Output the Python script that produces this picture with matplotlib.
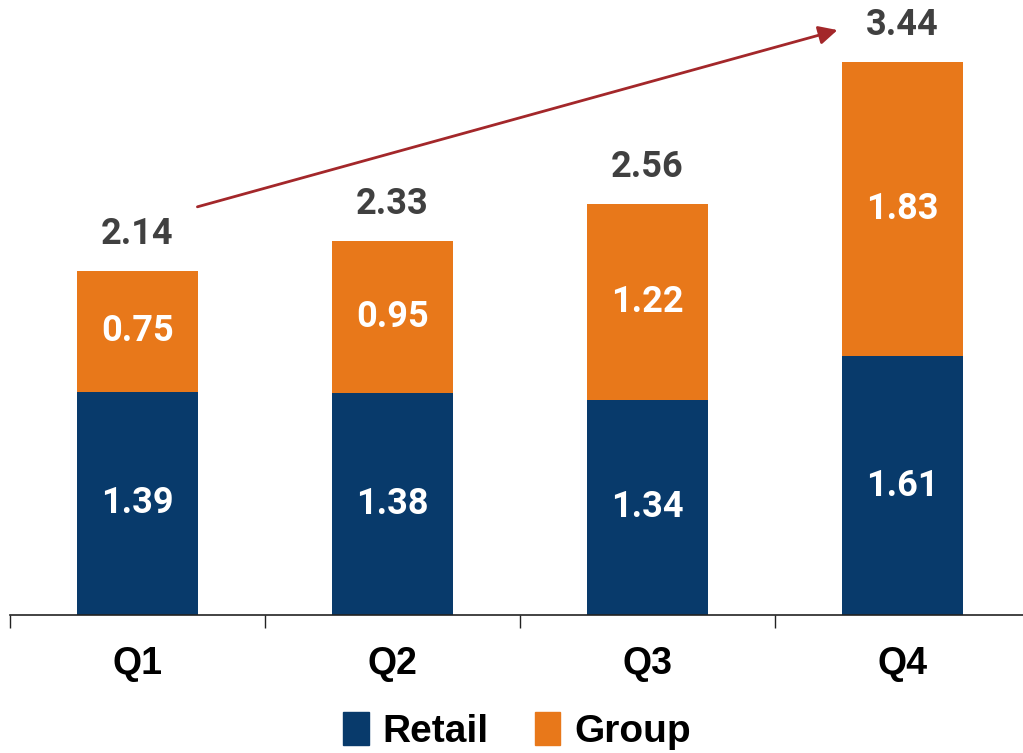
import numpy as np
import matplotlib.pyplot as plt
from matplotlib.patches import Patch

quarters = ['Q1', 'Q2', 'Q3', 'Q4']
retail = [1.39, 1.38, 1.34, 1.61]
group = [0.75, 0.95, 1.22, 1.83]
totals = [2.14, 2.33, 2.56, 3.44]

navy = '#083a6b'
orange = '#e8781a'
num_font = ['Roboto', 'DejaVu Sans']
cond_font = ['Liberation Sans Narrow', 'Liberation Sans', 'DejaVu Sans']

fig = plt.figure(figsize=(10.23, 7.53), dpi=100)
ax = fig.add_axes([10 / 1023, 138 / 753, 1020 / 1023, 615 / 753])

x = np.arange(len(quarters))
w = 0.475
ax.bar(x, retail, w, color=navy, label='Retail')
ax.bar(x, group, w, bottom=retail, color=orange, label='Group')

for i in range(len(quarters)):
    ax.text(x[i], retail[i] / 2, f'{retail[i]:.2f}', ha='center', va='center',
            color='white', fontsize=26, fontweight='bold', family=num_font)
    ax.text(x[i], retail[i] + group[i] / 2, f'{group[i]:.2f}', ha='center', va='center',
            color='white', fontsize=26, fontweight='bold', family=num_font)
    ax.text(x[i], totals[i] + 0.23, f'{totals[i]:.2f}', ha='center', va='center',
            color='#404040', fontsize=26, fontweight='bold', family=num_font)

# trend arrow
ax.annotate('', xy=(2.745, 3.64), xytext=(0.235, 2.54),
            arrowprops=dict(arrowstyle='-|>', color='#a3272a', lw=2,
                            mutation_scale=28, shrinkA=0, shrinkB=0))

ax.set_xlim(-0.5, 3.5)
ax.set_ylim(0, 615 / 160.7)
for s in ['top', 'right', 'left']:
    ax.spines[s].set_visible(False)
ax.spines['bottom'].set_color('#222222')
ax.spines['bottom'].set_linewidth(1.2)
ax.set_yticks([])

ax.set_xticks(np.arange(-0.5, 4, 1))
ax.set_xticklabels([])
ax.tick_params(axis='x', which='major', length=9, width=1, color='#222222', direction='out')
ax.set_xticks(x, minor=True)
ax.set_xticklabels(quarters, minor=True, fontsize=27, fontweight='bold', family=cond_font)
ax.tick_params(axis='x', which='minor', length=0, pad=22)

handles = [Patch(color=navy), Patch(color=orange)]
fig.legend(handles, ['Retail', 'Group'], loc='center', bbox_to_anchor=(517 / 1023, 1 - 731 / 753),
           ncol=2, frameon=False, prop={'family': cond_font, 'size': 28, 'weight': 'bold'},
           handlelength=0.65, handleheight=0.95, handletextpad=0.35, columnspacing=1.2)

fig.savefig('out.png', dpi=100)
